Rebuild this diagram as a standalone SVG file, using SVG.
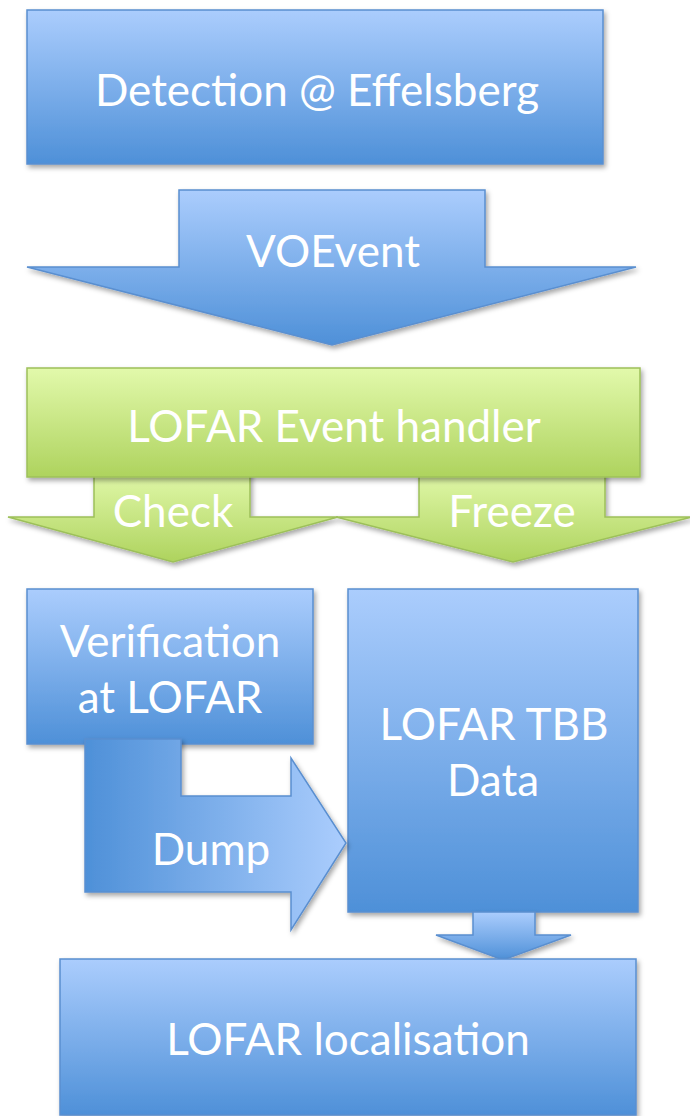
<svg xmlns="http://www.w3.org/2000/svg" width="690" height="1116" viewBox="0 0 690 1116">
<defs>
<linearGradient id="gb" x1="0" y1="0" x2="0" y2="1"><stop offset="0" stop-color="#abcdfd"/><stop offset="1" stop-color="#4e90d8"/></linearGradient>
<linearGradient id="gg" x1="0" y1="0" x2="0" y2="1"><stop offset="0" stop-color="#e2f9ab"/><stop offset="1" stop-color="#aed35e"/></linearGradient>
<linearGradient id="gh" x1="0" y1="0" x2="1" y2="0"><stop offset="0" stop-color="#4e90d8"/><stop offset="1" stop-color="#abcdfd"/></linearGradient>
<filter id="sh" x="-10%" y="-10%" width="125%" height="125%"><feDropShadow dx="2" dy="3" stdDeviation="2.5" flood-color="#000" flood-opacity="0.35"/></filter>
</defs>
<style>
.b{fill:url(#gb);stroke:#5a8fd0;stroke-width:1.5;filter:url(#sh)}
.g{fill:url(#gg);stroke:#9dc05a;stroke-width:1.5;filter:url(#sh)}
.h{fill:url(#gh);stroke:#5a8fd0;stroke-width:1.5;filter:url(#sh)}
text{font-family:Lato,"Open Sans","Liberation Sans",sans-serif;font-size:44px;fill:#fff;text-anchor:middle}
</style>
<g id="connectors">
<g id="voevent"><path class="b" d="M179,190 H485 V267 H636 L332,345 L27,267 H179 Z"/><text x="333" y="267">VOEvent</text></g>
<g id="check"><path class="g" d="M94,470 H250 V517 H338 L173,562 L8,517 H94 Z"/><text x="173" y="527">Check</text></g>
<g id="freeze"><path class="g" d="M419,470 H605 V517 H692 L513,562 L336,517 H419 Z"/><text x="512" y="527">Freeze</text></g>
</g>
<g id="detection"><rect class="b" x="27" y="10" width="576" height="154"/><text x="317" y="106">Detection @ Effelsberg</text></g>
<g id="handler"><rect class="g" x="27" y="368" width="613" height="109"/><text x="334" y="442">LOFAR Event handler</text></g>
<g id="verification"><rect class="b" x="27" y="589" width="286" height="155"/><text x="170" y="657">Verification</text><text x="170" y="713">at LOFAR</text></g>
<g id="tbb"><rect class="b" x="348" y="589" width="290" height="323"/><text x="494" y="740">LOFAR TBB</text><text x="493" y="796">Data</text></g>
<g id="dump"><path class="h" d="M85,739 H181 V796 H291 V758 L346,843 L291,930 V892 H85 Z"/><text x="211" y="865">Dump</text></g>
<g id="tbbarrow"><path class="b" d="M473,912 H535 V935 H571 L503,960 L436,935 H473 Z"/></g>
<g id="localisation"><rect class="b" x="60" y="959" width="576" height="156"/><text x="348" y="1055">LOFAR localisation</text></g>
</svg>
